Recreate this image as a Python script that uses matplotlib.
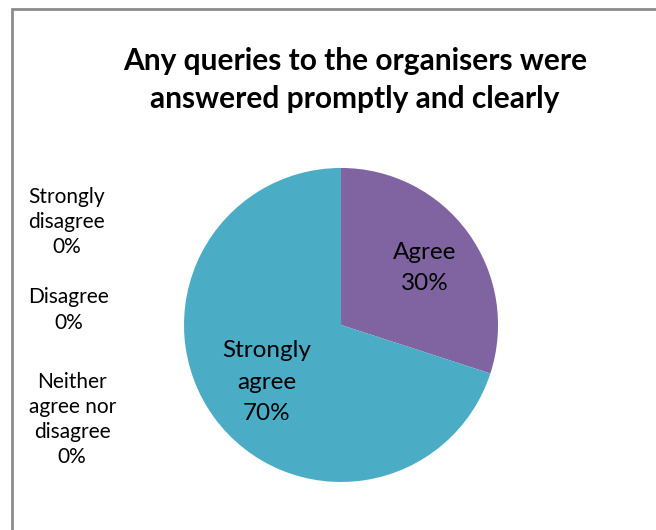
import numpy as np
import matplotlib.pyplot as plt
from matplotlib.patches import Rectangle

plt.rcParams['font.family'] = ['Lato', 'DejaVu Sans']

title = "Any queries to the organisers were\nanswered promptly and clearly"
categories = ["Strongly\ndisagree", "Disagree", "Neither\nagree nor\ndisagree", "Agree", "Strongly\nagree"]
shares = [0, 0, 0, 30, 70]
colors = ["#4F81BD", "#C0504D", "#9BBB59", "#8064A2", "#4BACC6"]

fig = plt.figure(figsize=(6.56, 5.30), dpi=100)

# chart area frame (runs off the right and bottom edges)
fig.patches.append(Rectangle((0.018, -0.1), 1.2, 0.1 + 0.983, transform=fig.transFigure,
                             facecolor="none", edgecolor="#8c8c8c", linewidth=2))

ax = fig.add_axes([0.2805, 0.0906, 0.4787, 0.5925])
wedges, _ = ax.pie(shares, colors=colors, startangle=90, counterclock=False,
                   wedgeprops=dict(linewidth=0))
ax.set_xlim(-1, 1)
ax.set_ylim(-1, 1)
ax.set_aspect("equal")

# labels inside the non-empty slices, labels for empty slices stacked on the left
left_pos = [(0.102, 0.581), (0.105, 0.415), (0.11, 0.208)]
k = 0
start = 90.0
for cat, val in zip(categories, shares):
    text = f"{cat}\n{val}%"
    if val > 0:
        mid = np.deg2rad(start - val / 100 * 360 / 2)
        r = 0.62
        ax.text(r * np.cos(mid) + 0.03, r * np.sin(mid), text, ha="center", va="center",
                fontsize=17.5, linespacing=1.6)
        start -= val / 100 * 360
    else:
        fig.text(left_pos[k][0], left_pos[k][1], text, ha="center", va="center",
                 fontsize=15, linespacing=1.32)
        k += 1

fig.text(0.541, 0.849, title, ha="center", va="center", fontsize=21.5,
         fontweight="bold", linespacing=1.45)

fig.savefig("out.png", dpi=100)
